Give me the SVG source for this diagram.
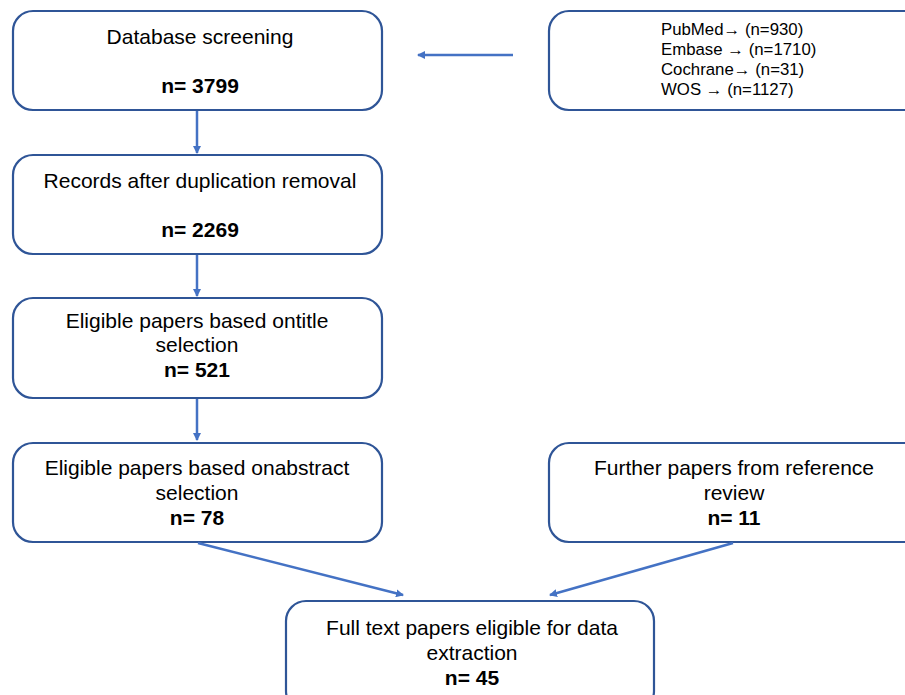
<svg xmlns="http://www.w3.org/2000/svg" width="905" height="695" viewBox="0 0 905 695">
<defs>
<marker id="ah" markerWidth="8" markerHeight="8" refX="7" refY="4" orient="auto" markerUnits="userSpaceOnUse">
<path d="M0,0 L8,4 L0,8 Z" fill="#4472C4"/>
</marker>
<style>
.box{fill:#fff;stroke:#2F5597;stroke-width:2.2}
.t{font-family:"Liberation Sans",Arial,sans-serif;font-size:21px;fill:#000;text-anchor:middle}
.b{font-weight:bold}
.s{font-family:"Liberation Sans",Arial,sans-serif;font-size:16.8px;fill:#000}
.c{stroke:#4472C4;stroke-width:2.5;fill:none;marker-end:url(#ah)}
</style>
</defs>
<rect width="905" height="695" fill="#fff"/>
<g id="n1"><rect class="box" x="13" y="11" width="369" height="99" rx="20"/>
<text class="t" x="200" y="44">Database screening</text>
<text class="t b" x="200" y="93">n= 3799</text></g>
<g id="n_src"><rect class="box" x="549" y="11" width="380" height="99" rx="20"/>
<text class="s" x="661" y="35">PubMed→ (n=930)</text>
<text class="s" x="661" y="55">Embase → (n=1710)</text>
<text class="s" x="661" y="75">Cochrane→ (n=31)</text>
<text class="s" x="661" y="95">WOS → (n=1127)</text></g>
<g id="n2"><rect class="box" x="13" y="155" width="369" height="99" rx="20"/>
<text class="t" x="200" y="188">Records after duplication removal</text>
<text class="t b" x="200" y="237">n= 2269</text></g>
<g id="n3"><rect class="box" x="13" y="298" width="369" height="100" rx="20"/>
<text class="t" x="197" y="328">Eligible papers based ontitle</text>
<text class="t" x="197" y="352">selection</text>
<text class="t b" x="197" y="377">n= 521</text></g>
<g id="n4"><rect class="box" x="13" y="443" width="369" height="99" rx="20"/>
<text class="t" x="197" y="475">Eligible papers based onabstract</text>
<text class="t" x="197" y="500">selection</text>
<text class="t b" x="197" y="525">n= 78</text></g>
<g id="n5"><rect class="box" x="549" y="443" width="380" height="99" rx="20"/>
<text class="t" x="734" y="475">Further papers from reference</text>
<text class="t" x="734" y="500">review</text>
<text class="t b" x="734" y="525">n= 11</text></g>
<g id="n6"><rect class="box" x="286" y="601" width="368" height="110" rx="20"/>
<text class="t" x="472" y="635">Full text papers eligible for data</text>
<text class="t" x="472" y="660">extraction</text>
<text class="t b" x="472" y="685">n= 45</text></g>
<g id="connectors">
<line class="c" x1="513" y1="55" x2="418" y2="55"/>
<line class="c" x1="197" y1="111" x2="197" y2="153"/>
<line class="c" x1="197" y1="255" x2="197" y2="296"/>
<line class="c" x1="197" y1="399" x2="197" y2="440"/>
<line class="c" x1="198" y1="543" x2="403" y2="595"/>
<line class="c" x1="733" y1="543" x2="550" y2="595"/>
</g>
</svg>
